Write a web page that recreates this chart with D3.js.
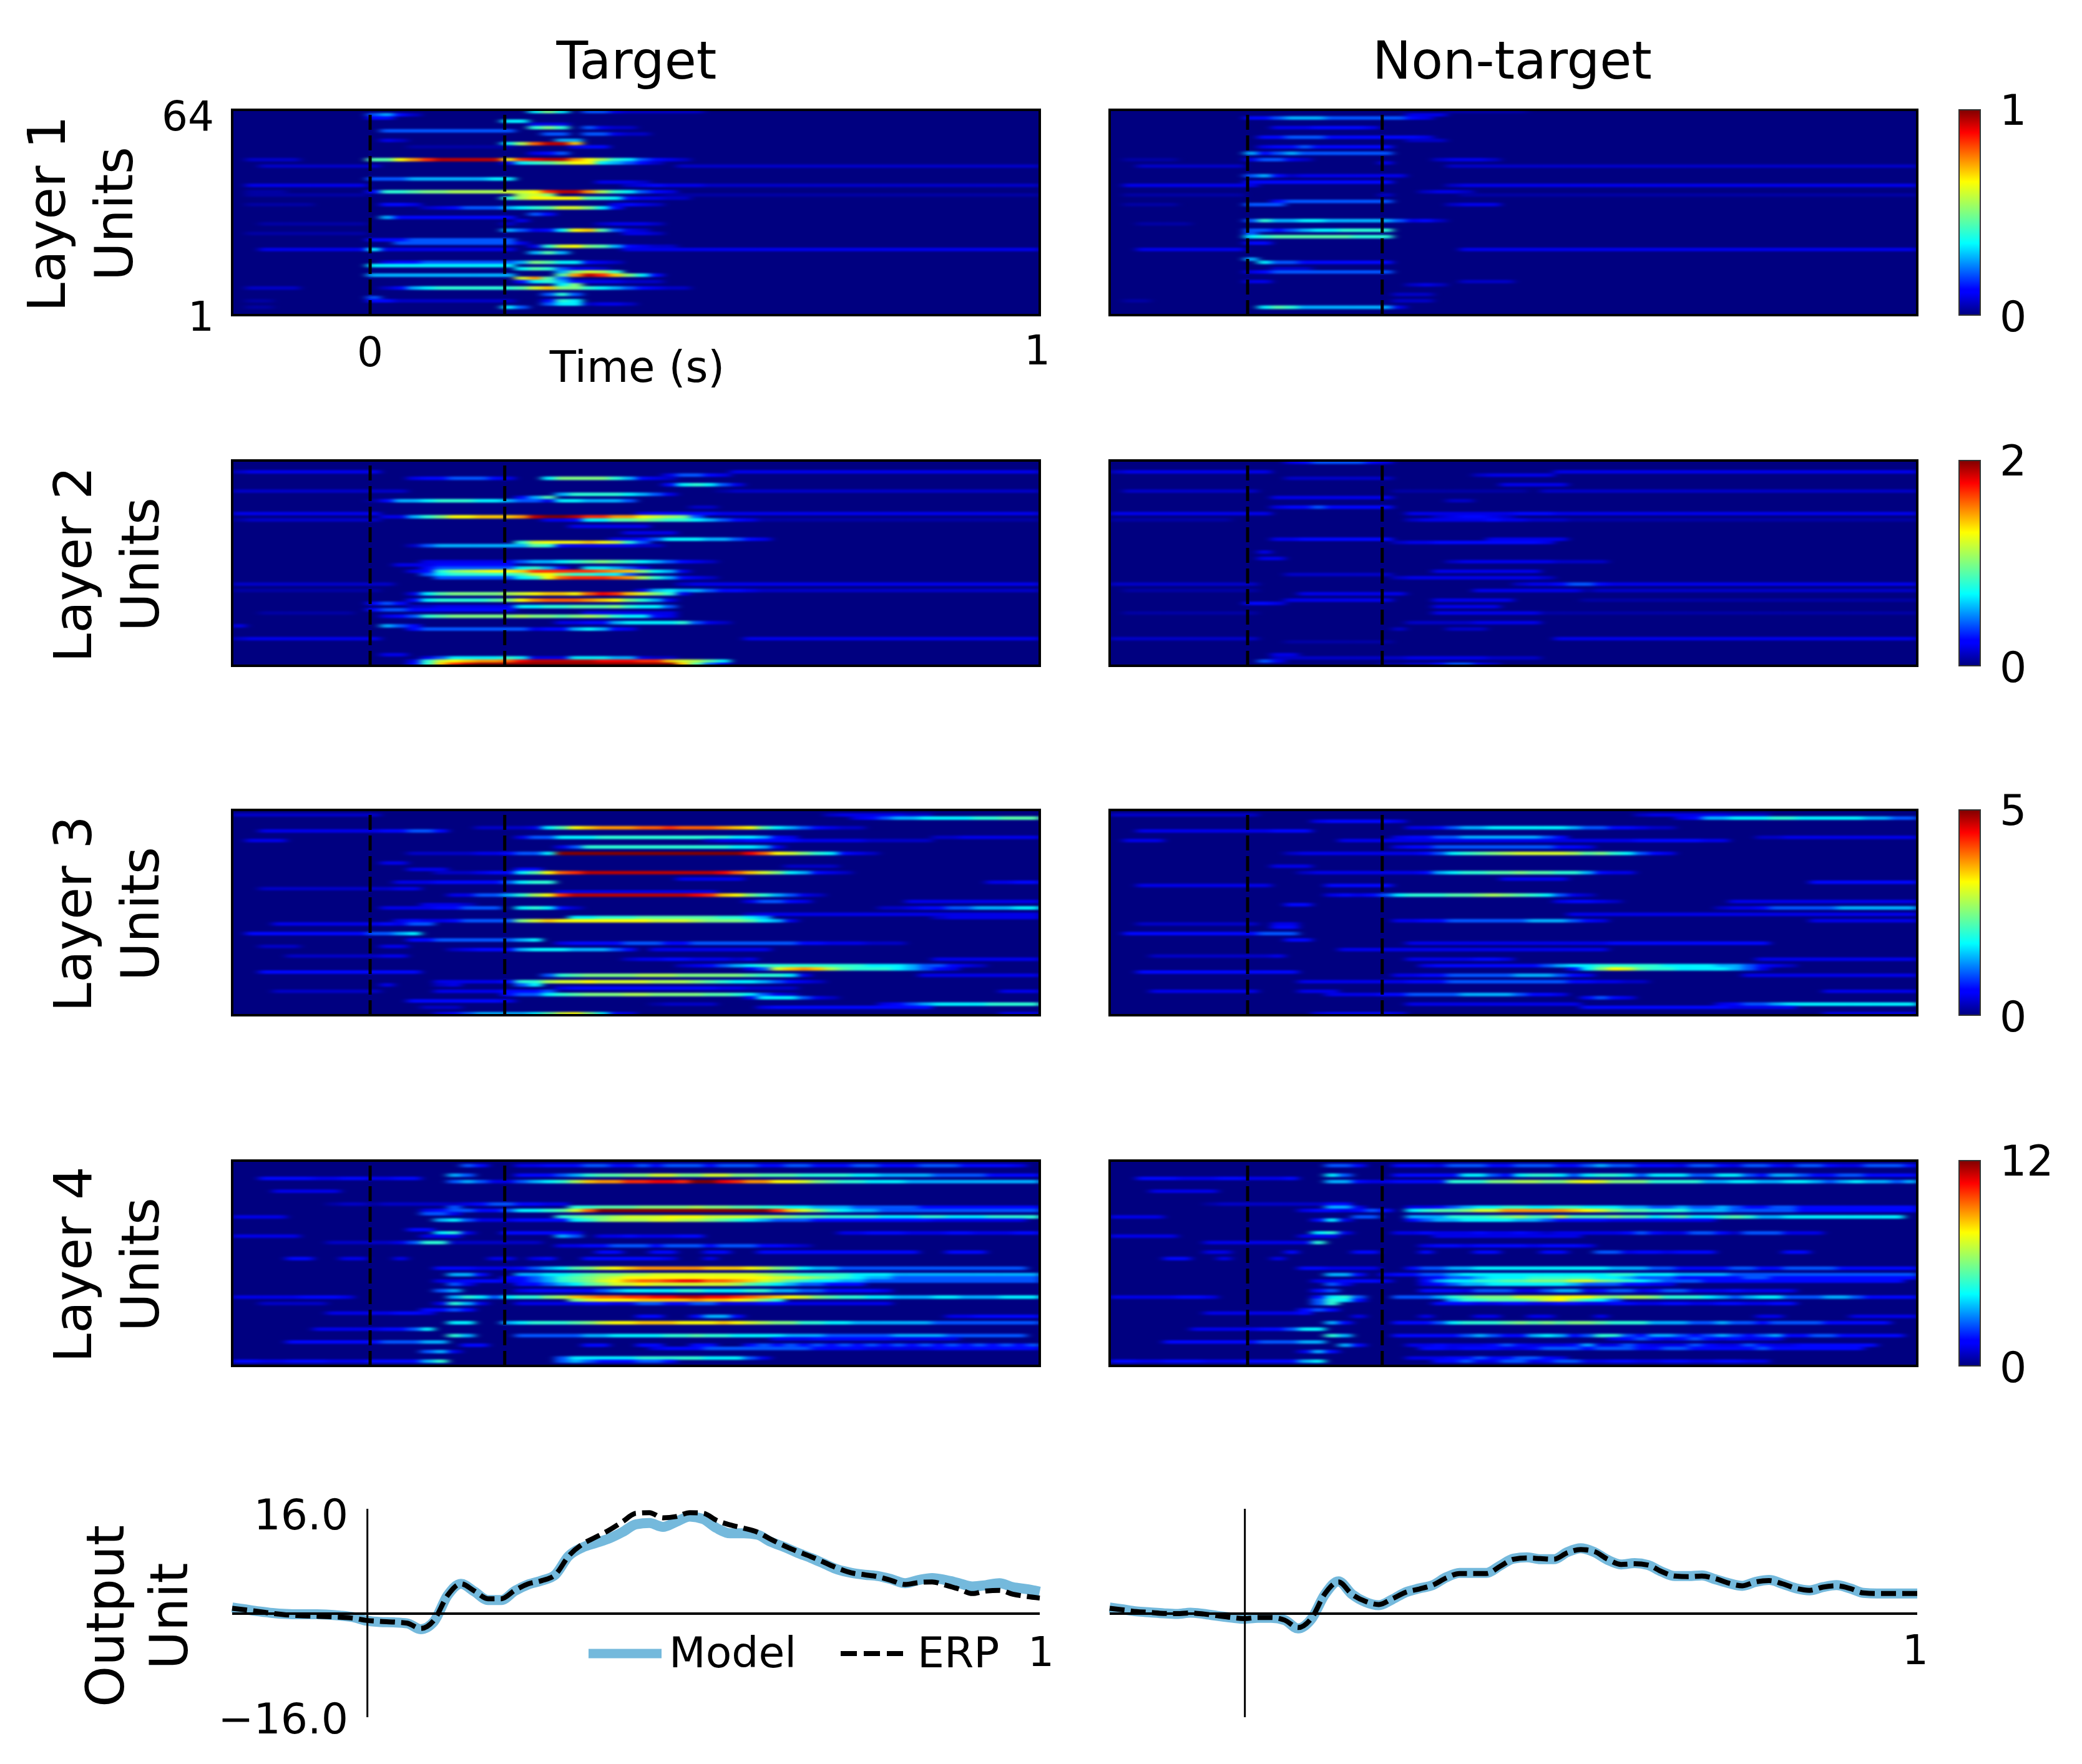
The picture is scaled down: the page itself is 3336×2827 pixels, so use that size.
<!DOCTYPE html>
<html>
<head>
<meta charset="utf-8">
<script src="https://cdnjs.cloudflare.com/ajax/libs/d3/7.8.5/d3.min.js"></script>
<style>
body { margin: 0; background: #fff; }
text { font-family: "DejaVu Sans", sans-serif; fill: #000; }
</style>
</head>
<body>
<script>
// each heatmap streak is [unit row from top, first time bin, codes]
// one code per time bin, looked up in levelValues (fraction of the colorbar)
const levelCodes = "0123456789abcdefghijk"
const levelValues = [0, .03, .06, .09, .13, .2, .28, .34, .4, .45, .5, .55, .6, .65, .7, .75, .8, .85, .9, .95, 1]

const layer1Target = [
[0,22,"7a7"],[0,26,"553222222"],[1,10,"564"],[1,13,"2"],[2,10,"44"],[3,20,"77"],[4,22,"333"],[5,22,"8a8"],[5,26,"5322"],
[6,11,"5555555555"],[7,23,"55"],[7,26,"55322"],[9,11,"32"],[9,24,"66"],[10,20,"7bgjje"],[11,13,"11111111"],[11,25,"344"],[13,22,"345"],
[15,1,"2222"],[15,10,"99dfhjjjjj"],[15,20,"dhijjfdb875432"],[16,20,"3789bdd76542"],[17,2,"222222222"],[17,33,"222222222222222222222222222"],
[21,10,"55566666677"],[22,27,"3332"],[23,1,"333333333"],[23,29,"2343332222222222222222222222222222"],
[25,1,"111"],[25,10,"4889aabbbb"],[25,20,"ccdhjjfb87543"],[26,1,"111111111"],[26,21,"bca"],[26,32,"1111111111111111111111111111"],[27,20,"8bdddd98743322"],
[29,1,"11111"],[29,11,"443"],[29,28,"3432"],[30,14,"2345556789cca74"],[32,22,"54"],[33,11,"6444444444"],[34,21,"3"],
[35,2,"11111111"],[35,20,"2"],[35,27,"23332"],[37,20,"65347de9532"],[38,1,"111111111"],[38,29,"332"],
[40,10,"44455555555"],[41,12,"555555555"],[41,21,"3"],[42,22,"38cda964322"],[43,2,"33333333"],[43,10,"73333333333"],[43,29,"3333333333333333333333333333333"],
[44,22,"696"],[47,11,"3445555555"],[47,21,"6a977432"],[48,10,"77777777777"],[49,21,"7985332"],[50,24,"6acb8"],
[51,10,"66666666666"],[51,24,"9fjhea74"],[52,21,"cf95"],[53,21,"47864333222"],[54,24,"7a"],
[55,1,"2222"],[55,11,"2467888888"],[55,21,"9cea"],[55,25,"a87654322"],[57,23,"585"],[58,10,"5"],[59,1,"11"],[59,10,"44222222222"],[59,23,"487"],
[60,23,"5772332"],[61,1,"11"],[61,20,"75"]
]

const layer1NonTarget = [
[0,25,"111111"],[1,22,"333"],[2,10,"44566655555543"],[5,12,"33344443"],[8,11,"4455544444443"],[9,22,"222"],[11,11,"3445444444"],
[13,10,"64565555555"],[15,1,"1111"],[15,10,"35532"],[15,24,"23332"],[16,20,"3"],[17,2,"22222222"],[17,25,"22222222222222222222222222222222222"],
[20,10,"564233333333"],[22,10,"44444444444"],[23,1,"3333333333"],[23,25,"23333333333333333333333333333333333"],
[25,23,"2332"],[26,1,"111111111"],[26,20,"2"],[26,26,"1111111111111111111111111111111111"],[28,12,"455555555"],[29,1,"1111"],[29,10,"555"],[29,25,"2333"],
[34,10,"58667766666"],[34,21,"5342"],[35,2,"1111"],[37,10,"55456778888"],[38,10,"5"],[39,10,"78999999888"],[41,10,"44"],
[43,2,"33333333"],[43,26,"3333333333333333333333333333333333"],[46,10,"6"],[47,11,"7554444444"],[49,12,"222"],[50,10,"34555555555"],
[53,10,"33"],[53,26,"2222"],[54,22,"232"],[57,21,"222"],[59,1,"11"],[59,21,"222"],[61,11,"7986666666"],[61,21,"3"]
]

const layer2Target = [
[3,0,"23333333333"],[3,37,"33333333333333333333333"],[4,32,"35543"],[5,13,"34455543"],[5,23,"7aaaa86432"],[7,32,"478753"],
[9,0,"2222222222222"],[9,36,"122222222222222222222222"],[10,24,"688887653"],[11,21,"469"],[12,10,"14667888776"],[12,21,"553"],[12,24,"776665"],[14,34,"22"],
[16,0,"33333333333"],[16,30,"3444443333333333333333333333333333"],[17,11,"33"],[17,13,"68addeee"],[17,21,"fjkkjhhffdcba5"],
[18,0,"12222222222"],[18,23,"334"],[18,26,"7799a98876543"],[18,39,"1111111111111111111111"],[20,25,"333333"],[22,29,"3333"],[24,28,"334577766543"],
[25,21,"8cdddedc85"],[26,13,"25666666"],[26,21,"69843333322"],[31,14,"3333333"],[31,21,"5667 89a98765432"],[32,12,"333444444"],
[33,14,"4555555"],[33,21,"7864"],[33,26,"77653"],[34,13,"348abcdd"],[34,21,"ehhhhhgfea763"],[35,14,"5788888"],[35,21,"9cda88775"],
[36,15,"555555"],[36,21,"78dghhhgfb86432"],[38,0,"222222222222"],[38,33,"2333333333333333333333333333"],
[40,0,"11111111111"],[40,30,"3676654432222222222222222222222222"],[41,13,"379aaaab"],[41,21,"cdeedgihe ca83"],[43,13,"4788889a"],[43,21,"dfgggfeda863"],
[44,10,"454"],[45,13,"22333333"],[45,21,"7788999a8775"],[46,10,"45544444444"],[47,2,"1111111"],[47,26,"3333333"],
[48,11,"3458 9aaaaa"],[48,21,"baa9aba87743"],[50,24,"3344677778532"],[51,0,"3"],[51,11,"654"],[52,13,"455555555"],[52,22,"34467643"],
[55,0,"23333333333"],[55,38,"3333333333333333333333"],[60,11,"33"],[61,14,"3577778"],[61,21,"7333"],[61,25,"77766322"],
[62,13,"38cdeffg"],[62,21,"ijjjjjiiihhecb97"],[63,13,"48ehjkkk"],[63,21,"kkkkkkkkkkkke953"]
]

const layer2NonTarget = [
[0,13,"34555543"],[3,0,"233333333333"],[3,33,"333333333333333333333333333"],[4,27,"233333"],[5,13,"22222222"],[7,29,"33333"],
[9,1,"2222222222"],[9,21,"1111111111"],[9,32,"2222222222222222222222222222"],[11,12,"333333333"],[12,25,"22"],[14,12,"344544444"],
[16,0,"333333333333"],[16,22,"33333333444333333333333333333333333333"],[17,24,"234432"],[18,0,"111111111"],[18,22,"233333433222"],[18,34,"11111111111111111111111111"],
[24,12,"334444444"],[24,28,"333333"],[25,21,"233444444443"],[28,11,"3"],[30,11,"33"],[31,25,"233333332222"],[34,24,"33333333"],
[35,13,"22222222"],[36,21,"233333333332"],[38,0,"22222222222"],[38,30,"233455433333333333333333333333"],[40,1,"1111111111"],[40,27,"33333333"],[40,35,"1222222222222222222222222"],
[41,14,"33333333"],[43,13,"33333333"],[43,24,"333333"],[43,35,"1111111111111111111111111"],[44,10,"443"],[45,24,"33333"],
[47,1,"1111111111"],[47,24,"33333333"],[47,32,"1111111111111111111111111111"],[50,22,"2222233333"],[52,21,"2"],[52,25,"222"],
[55,0,"22222222222"],[55,33,"333333333333333333333333333"],[56,13,"11111111"],[60,12,"33"],[61,12,"222222222"],[61,21,"23333332222"],[62,11,"53"],[63,20,"112245532"]
]

const layer3Target = [
[1,0,"22222222222"],[1,44,"23333322"],[2,46,"34566777788999"],[5,18,"2222"],[5,22,"379defffgghgggfed97654322"],[6,2,"33333333344554"],
[8,21,"35577788888888887764 3"],[8,52,"22333333"],[9,1,"333"],[9,35,"23344443333322222"],[11,24,"35888888888887763"],
[13,13,"22222334557"],[13,24,"kkkkkkkkkkkkkk"],[13,38,"igdca87432"],[16,11,"33"],[17,41,"2222"],[18,13,"333"],[18,21,"44"],
[19,15,"22234479dghjjjjjjjjjjigeca76432"],[21,33,"33333"],[22,12,"33344444"],[22,20,"5788"],[22,56,"3344"],[24,2,"2222222222"],[24,12,"33"],[25,24,"333333333333"],
[26,16,"33556"],[26,21,"8bdhjjjjjjjjjiheda86532"],[28,38,"35543"],[28,50,"3333333333"],[29,14,"3332"],
[30,11,"333344555"],[30,21,"78742"],[30,48,"223445566677"],[32,38,"2333333333333333333333"],[33,25,"778889999998876"],[33,52,"23333333"],
[34,12,"343345555"],[34,21,"acedddddddcccbaaa9763"],[35,3,"33333333"],[35,11,"4355"],[38,1,"444444444"],[38,10,"5567"],
[40,13,"44555555"],[40,21,"67"],[41,24,"34444555445555555544333222"],[42,2,"222"],[42,11,"33"],[43,16,"23444"],[43,21,"677766654"],[43,31,"333333333"],
[45,4,"2222222"],[45,11,"33"],[46,29,"2334433323"],[46,52,"33333333"],[48,33,"2345678888888877765 5432"],[49,38,"35cefeb988876543"],
[50,2,"444444444"],[50,11,"444"],[51,23,"589aaaabbbaaaaa98873"],[51,51,"333333333"],[53,15,"333334"],[53,21,"88bccdccccbbba987765432"],
[54,11,"3"],[54,15,"23"],[54,21,"57"],[55,24,"344444444444332222"],[56,3,"22222222"],[56,15,"333334"],[56,21,"445"],[56,57,"333"],
[57,20,"4557"],[57,24,"89aaabbaaaa9987532"],[58,38,"3777532"],[59,13,"44444443"],[60,31,"12222"],[60,48,"345677778888"],[61,14,"222"],[61,39,"3444444444444"],
[63,15,"345666679cda743"],[63,57,"333"]
]

const layer3NonTarget = [
[1,0,"22222222222"],[1,39,"2333333222"],[2,42,"346677788777776655555"],[3,15,"3444443"],[5,22,"334566777777655 44322"],[6,2,"3333333333444"],
[8,21,"3445566666654"],[8,48,"223333333333"],[9,1,"333"],[9,17,"3333"],[9,21,"3333333333333333334444433"],[11,21,"344555555555443"],
[13,13,"2333333333457 89abccccb9a87543"],[17,12,"333"],[19,14,"233333333467889 9a998864 33"],[21,29,"33333"],[22,52,"44444444"],
[23,2,"3333333333"],[23,16,"44444"],[26,16,"343457888 99aba987532"],[28,33,"34432"],[28,46,"33333333333333"],[29,13,"44"],[30,45,"233455555666666"],
[32,34,"33333333333333333333333333"],[34,21,"3344555555666543"],[34,52,"33333333"],[35,2,"222222222"],[35,12,"33"],[36,12,"44"],[38,1,"4444444444555"],[40,13,"44"],
[41,22,"333333333333333444444444444"],[43,17,"33333333333333333333"],[45,3,"2222222223"],[46,22,"33333443"],[46,48,"333333333333"],
[48,23,"3444444445677888887777665432"],[49,34,"47adc988777765 3"],[50,2,"444444444"],[50,11,"444"],[51,21,"334455555666543"],[51,47,"3333333333333"],
[53,14,"3333333"],[53,21,"3444555555555443322"],[56,3,"33333333"],[56,14,"333"],[56,53,"3333333"],[57,16,"333344555566665443"],[58,35,"4543"],
[60,22,"3333333333333"],[60,45,"345567777777777"],[61,35,"44444444444"],[61,46,"33333"],[63,15,"3444443"],[63,53,"3333333"]
]

const layer4Target = [
[1,17,"54"],[1,21,"33444554454555455544554445544455544443"],[4,16,"65"],[4,21,"444568 99aaccaaccaa99988887766665555444 44"],
[5,2,"444433443"],[5,11,"344"],[6,16,"56533"],[6,21,"5678beffhhiihkkihffddca98877766666666666"],[9,3,"33333"],
[13,7,"1221222222"],[13,17,"34554433"],[14,16,"5"],[14,25,"88999aaaabaa9988776665555544444444444"],
[15,14,"3455445"],[15,21,"7789cg"],[15,27,"kkkkkkkkkkkkk"],[15,40,"hec"],[15,43,"a87665555555555555"],[16,14,"553"],
[17,0,"3333"],[17,24,"89aabcccdddccccbba9988887778877788888"],[18,15,"675"],[18,18,"3334444"],[18,25,"78abbbccbba98765554444444443333333"],
[21,13,"44"],[22,15,"783"],[22,20,"444443"],[22,45,"334443334433344"],[23,0,"33333"],[23,14,"333"],[23,24,"65"],[23,27,"33433344"],
[25,7,"222223"],[25,13,"588"],[25,16,"2222222"],[26,24,"3344555455545554432"],[28,27,"44"],[28,31,"44"],[28,35,"44"],[28,39,"444444444444"],[28,53,"444"],
[30,4,"44"],[30,8,"33"],[30,12,"3"],[30,19,"33"],[30,22,"34"],[30,26,"4444443"],[30,35,"3"],[33,15,"444333"],[33,21,"45679acdefffffeeedca976655555555555555"],
[35,16,"664"],[35,21,"667789aabbccccccccba98888777666666666666"],[36,20,"445689abcdddddddddddccba98766555555555555"],
[37,15,"334443"],[37,21,"45689acdfgghiiggfecb98776655555555555555"],[38,16,"53"],[38,21,"445679accdccccccb987655444"],
[40,15,"56"],[40,21,"3444445677778877788665544443"],[42,0,"333334443"],[42,16,"6875"],[42,20,"788abefgghhiijjiihgfedca98877666776667777"],
[43,25,"acdddeeeefeedca8"],[44,2,"22222"],[44,15,"3863"],[44,21,"3333344335544553334433333333"],[46,14,"4454"],[47,7,"33333443"],[48,30,"44"],[48,34,"4664"],[48,53,"3344444"],
[50,16,"77"],[50,20,"678889acddeeedddedcbaa8877666666555555555"],[52,6,"333334457"],[54,16,"86"],[54,21,"55555667777889887777666555556666555555"],[55,40,"33344444433333"],
[56,4,"4444444"],[56,11,"55566"],[57,17,"44"],[57,26,"44"],[57,30,"44"],[57,34,"44"],[57,38,"4545454545454545454545"],[58,31,"34445555555544443333344444444"],
[59,14,"563"],[61,24,"5777778888877753"],[62,0,"4433444333444468"],[62,24,"565444554"]
]

const layer4NonTarget = [
[1,16,"554"],[1,21,"444355544555445655444355435543554335554"],[4,16,"75"],[4,21,"444447754788757887577755775466544554444"],[5,2,"444333443334"],
[6,16,"664"],[6,19,"33"],[6,21,"4444888aabbaacdcaaa88886677667765676656"],[9,3,"33333"],[13,7,"122222222"],[13,16,"44"],[14,16,"663"],
[14,22,"33456778877887776655655654455444444444"],[15,14,"3443454"],[15,22,"7899accfffffedca99888666555554444444444"],[17,0,"3333"],[17,18,"55"],
[17,22,"6668889ab99c999a997897789866777777777"],[18,15,"473"],[18,22,"45667777665444433333333"],[22,15,"783"],[22,21,"33433343343233333454335542555333"],
[23,0,"33333"],[23,14,"333"],[23,24,"33333333333"],[25,7,"33333333"],[25,15,"8"],[26,23,"3443444434443"],[28,7,"33"],[28,13,"4"],[28,18,"44"],[28,23,"4"],[28,27,"44"],[28,32,"44"],[28,36,"553443444"],[28,50,"44"],
[30,4,"44"],[30,8,"3"],[30,12,"3"],[33,14,"443333"],[33,22,"45566777777777766655444455445555444444"],[35,16,"664"],[35,20,"3445567777777777788777666655555555555555"],
[36,23,"3455677788888776555444445544444444444"],[37,15,"334443"],[37,23,"46778899aaacca9876555444444444444444"],[38,16,"53"],[38,23,"345667777776555 4433"],
[40,15,"45"],[40,23,"444355533566345534553334333 3"],[42,0,"33333443"],[42,15,"4785"],[42,21,"55568 9aaacccdddbabba88876567755566544444"],[43,15,"5874"],[43,25,"688999acda875"],
[44,15,"58"],[44,24,"444334433443344334433443344"],[46,14,"454"],[47,7,"33333334"],[48,18,"3"],[48,23,"3"],[48,27,"33"],[48,31,"33"],[48,36,"3"],[48,48,"33"],[48,55,"33333"],
[50,16,"64"],[50,21,"444578889a9a9aa9888666556554555544444"],[52,6,"3333344577"],[54,16,"86"],[54,21,"44444565446764588546654565456445544444"],[55,37,"3454345434333"],
[56,4,"4444444"],[56,11,"55566"],[57,17,"64"],[57,22,"33433345433346335433354335433444444"],[58,23,"443444334555455544554444454444444"],[59,14,"364"],
[61,22,"333445445543"],[62,0,"4433444333444467"],[62,24,"4453355345533443344334433"]
]

// output unit values, one every 0.02 s from -0.2 to 1
const erpTarget = [.83,.58,.32,.03,-.19,-.32,-.38,-.45,-.55,-.7,-1.05,-1.2,-1.3,-1.47,-2.3,-1,2.8,4.6,3.5,2.3,2.3,3.6,4.6,5.1,6,8.9,10.7,11.8,12.9,14.2,15.5,15.6,14.8,15,15.6,15.5,14.4,13.7,13.2,12.6,11.5,10.5,9.6,8.8,7.9,7,6.3,6,5.7,5.1,4.5,4.8,4.9,4.4,3.8,3.1,3.5,3.6,3,2.66,2.4]
const modelTarget = [.95,.65,.35,.1,-.05,-.1,-.1,-.15,-.3,-.55,-1.1,-1.3,-1.35,-1.5,-2.4,-1.2,2.8,4.6,3.4,2.1,2.1,3.5,4.5,5.1,6,8.9,10.2,10.9,11.6,12.6,13.8,14,13.4,14.2,15,14.6,13.2,12.4,12.4,12.2,11.1,10.3,9.4,8.6,7.7,6.8,6.3,6,5.8,5.3,4.7,5.2,5.5,5.2,4.7,4.2,4.4,4.7,4.1,3.8,3.4]
const erpNonTarget = [.83,.58,.32,.19,.03,0,.1,-.06,-.32,-.58,-.77,-.6,-.6,-1,-2.15,-.7,3.1,4.9,3,1.9,1.4,2.3,3.3,3.8,4.4,5.5,6.2,6.2,6.2,7.3,8.4,8.6,8.5,8.4,9.4,9.9,9.6,8.4,7.6,7.7,7.5,6.5,5.8,5.7,5.8,5.4,4.7,4.3,4.9,5.1,4.6,3.9,3.6,4.1,4.3,3.9,3.2,3.1,3.1,3.1,3.1]
const modelNonTarget = [.95,.65,.35,.2,.05,-.05,.15,-.05,-.35,-.6,-.8,-.65,-.65,-1,-2.3,-.8,3,5,3,1.8,1.3,2.2,3.3,3.9,4.4,5.6,6.3,6.3,6.3,7.4,8.5,8.7,8.4,8.4,9.5,10.1,9.5,8.3,7.6,7.8,7.5,6.5,5.8,5.8,5.9,5.3,4.7,4.3,4.9,5.2,4.6,3.9,3.6,4.1,4.4,3.9,3.2,3.1,3.1,3.1,3.1]

const layerNames = ["Layer 1", "Layer 2", "Layer 3", "Layer 4"]
const colorbarMax = ["1", "2", "5", "12"]
const panelTop = [176, 738, 1298, 1860]
const panelHeight = 329
const panelWidth = 1294
const colLeft = [372, 1778]
const nBins = 60
const nUnits = 64

const svg = d3.select("body").append("svg")
    .attr("width", 3336)
    .attr("height", 2827)

const defs = svg.append("defs")

// jet colormap
const jet = d3.scaleLinear()
    .domain([0, .11, .125, .35, .5, .65, .89, 1])
    .range(["#000080", "#0000ff", "#0000ff", "#00ffff", "#80ff80", "#ffff00", "#ff0000", "#800000"])
    .clamp(true)

const binScale = d3.scaleBand().domain(d3.range(nBins)).range([0, panelWidth])
const unitScale = d3.scaleBand().domain(d3.range(nUnits)).range([0, panelHeight])
const timeScale = d3.scaleLinear().domain([-0.2, 1]).range([0, panelWidth])

// soft resampling of the raster, mostly along time
defs.append("filter").attr("id", "soft")
    .attr("x", "-5%").attr("y", "-5%").attr("width", "110%").attr("height", "110%")
    .attr("color-interpolation-filters", "sRGB")
    .append("feGaussianBlur").attr("stdDeviation", "7 1.4")

defs.append("clipPath").attr("id", "panelClip")
    .append("rect").attr("width", panelWidth).attr("height", panelHeight)

function drawHeat(streaks, x0, y0) {
    const cells = []
    streaks.forEach(s => {
        s[2].replace(/ /g, "").split("").forEach((c, i) => {
            if (s[1] + i < nBins) cells.push({ row: s[0], col: s[1] + i, level: levelValues[levelCodes.indexOf(c)] })
        })
    })
    const g = svg.append("g").attr("transform", `translate(${x0},${y0})`)
    g.append("rect").attr("width", panelWidth).attr("height", panelHeight).attr("fill", jet(0))
    g.append("g").attr("clip-path", "url(#panelClip)")
        .append("g").attr("filter", "url(#soft)")
        .selectAll("rect").data(cells).enter().append("rect")
        .attr("x", d => binScale(d.col))
        .attr("y", d => unitScale(d.row))
        .attr("width", binScale.bandwidth() + .5)
        .attr("height", unitScale.bandwidth() + .5)
        .attr("fill", d => jet(d.level))

    // stimulus on and off, a little late like the raster
    const half = binScale.bandwidth() / 4
    g.selectAll("line.stim").data([0, 0.2]).enter().append("line")
        .attr("class", "stim")
        .attr("x1", d => timeScale(d) + half)
        .attr("x2", d => timeScale(d) + half)
        .attr("y1", 8)
        .attr("y2", panelHeight)
        .attr("stroke", "#000")
        .attr("stroke-width", 5)
        .attr("stroke-dasharray", "24,9")

    g.append("rect").attr("width", panelWidth).attr("height", panelHeight)
        .attr("fill", "none").attr("stroke", "#000").attr("stroke-width", 4)
}

const heatData = [
    [layer1Target, layer1NonTarget],
    [layer2Target, layer2NonTarget],
    [layer3Target, layer3NonTarget],
    [layer4Target, layer4NonTarget]
]
heatData.forEach((pair, i) => {
    drawHeat(pair[0], colLeft[0], panelTop[i])
    drawHeat(pair[1], colLeft[1], panelTop[i])
})

// colorbars
const grad = defs.append("linearGradient").attr("id", "jetGrad")
    .attr("x1", 0).attr("x2", 0).attr("y1", 1).attr("y2", 0)
grad.selectAll("stop").data(jet.domain()).enter().append("stop")
    .attr("offset", d => d)
    .attr("stop-color", d => jet(d))

panelTop.forEach((top, i) => {
    svg.append("rect")
        .attr("x", 3139).attr("y", top)
        .attr("width", 34).attr("height", panelHeight)
        .attr("fill", "url(#jetGrad)")
        .attr("stroke", "#333").attr("stroke-width", 2)
    svg.append("text").attr("x", 3204).attr("y", top + 24).attr("font-size", 68).text(colorbarMax[i])
    svg.append("text").attr("x", 3204).attr("y", top + panelHeight + 26).attr("font-size", 68).text("0")
})

function label(txt, x, y, size, anchor) {
    svg.append("text").attr("x", x).attr("y", y).attr("font-size", size)
        .attr("text-anchor", anchor || "middle").text(txt)
}
function vlabel(txt, x, y, size) {
    svg.append("text").attr("transform", `translate(${x},${y}) rotate(-90)`)
        .attr("font-size", size).attr("text-anchor", "middle").text(txt)
}

label("Target", 1020, 126, 83)
label("Non-target", 2423, 126, 83)
layerNames.forEach((name, i) => {
    const mid = panelTop[i] + panelHeight / 2 + 2
    const x = i === 0 ? 104 : 146
    vlabel(name, x, mid, 84)
    vlabel("Units", x + 108, mid, 84)
})
label("64", 343, 209, 66, "end")
label("1", 343, 530, 66, "end")
label("0", 593, 587, 66)
label("1", 1662, 584, 66)
label("Time (s)", 1021, 612, 69)

// output unit
const outY = d3.scaleLinear().domain([-16, 16]).range([2752, 2420])
const outX = d3.scaleLinear().domain([-0.2, 1]).range([0, panelWidth])
const outTimes = d3.range(erpTarget.length).map(i => -0.2 + i * 0.02)
const outLine = d3.line()
    .x((d, i) => outX(outTimes[i]))
    .y(d => outY(d))
    .curve(d3.curveMonotoneX)

function drawOutput(model, erp, x0) {
    const g = svg.append("g").attr("transform", `translate(${x0},0)`)
    g.append("path").datum(model).attr("d", outLine)
        .attr("fill", "none").attr("stroke", "#74b9dc").attr("stroke-width", 16)
    g.append("line").attr("x1", 0).attr("x2", panelWidth)
        .attr("y1", outY(0)).attr("y2", outY(0))
        .attr("stroke", "#000").attr("stroke-width", 4)
    g.append("line").attr("x1", outX(0) + 1).attr("x2", outX(0) + 1)
        .attr("y1", 2418).attr("y2", 2752)
        .attr("stroke", "#000").attr("stroke-width", 3)
    g.append("path").datum(erp).attr("d", outLine)
        .attr("fill", "none").attr("stroke", "#000").attr("stroke-width", 8)
        .attr("stroke-dasharray", "24,10")
}
drawOutput(modelTarget, erpTarget, colLeft[0])
drawOutput(modelNonTarget, erpNonTarget, colLeft[1])

vlabel("Output", 198, 2590, 84)
vlabel("Unit", 300, 2590, 84)
label("16.0", 558, 2451, 68, "end")
label("\u221216.0", 558, 2778, 68, "end")
label("1", 1668, 2670, 66)
label("1", 3069, 2667, 66)

// legend
svg.append("line").attr("x1", 943).attr("x2", 1060).attr("y1", 2650).attr("y2", 2650)
    .attr("stroke", "#74b9dc").attr("stroke-width", 15)
label("Model", 1072, 2672, 68, "start")
svg.append("line").attr("x1", 1347).attr("x2", 1455).attr("y1", 2650).attr("y2", 2650)
    .attr("stroke", "#000").attr("stroke-width", 8).attr("stroke-dasharray", "26,11")
label("ERP", 1470, 2672, 68, "start")
</script>
</body>
</html>
